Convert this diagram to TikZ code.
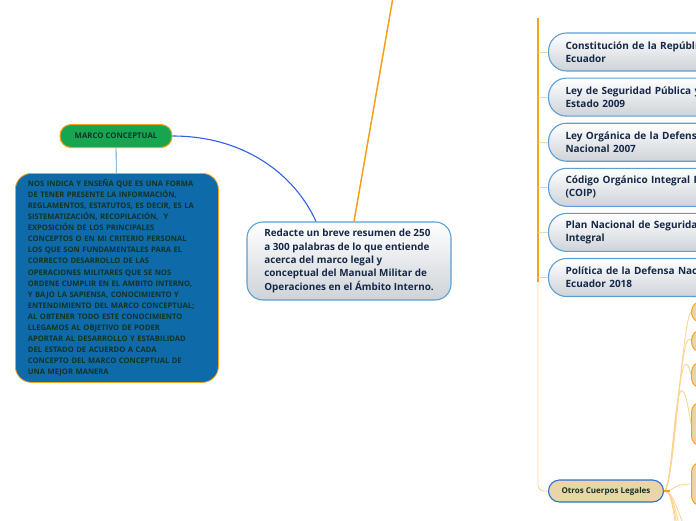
\documentclass[tikz,border=0pt]{standalone}
\usepackage{fontspec}
\setmainfont{Open Sans}
\usetikzlibrary{positioning, arrows.meta}

\definecolor{navy}{RGB}{22,40,72}
\definecolor{darkgreen}{RGB}{18,52,38}
\definecolor{linkblue}{RGB}{92,158,214}
\definecolor{strongblue}{RGB}{48,96,232}
\definecolor{cardgray}{RGB}{206,211,216}
\definecolor{mindorange}{RGB}{247,160,28}
\definecolor{paleorange}{RGB}{252,212,150}
\definecolor{marcogreen}{RGB}{22,166,80}
\definecolor{boxblue}{RGB}{14,106,168}
\definecolor{tan}{RGB}{232,213,168}
\definecolor{otrosblue}{RGB}{46,110,214}

\begin{document}
\begin{tikzpicture}[
    x=1pt, y=-1pt,
    topic/.style={draw=linkblue, line width=1.1pt, rounded corners=18pt,
        top color=white, bottom color=cardgray, text=navy,
        text width=220pt, inner xsep=17pt, minimum height=38pt, align=left,
        font=\fontsize{10}{13}\selectfont\bfseries},
    leaf/.style={draw=mindorange, line width=1pt, rounded corners=10pt,
        fill=tan, minimum width=60pt},
    trunk/.style={draw=mindorange, line width=1.8pt},
    twig/.style={draw=paleorange, line width=0.9pt}
]
\clip (0,0) rectangle (696,520);

% central idea
\node[draw=linkblue, line width=1.1pt, rounded corners=16pt,
      top color=white, bottom color=cardgray, text=navy,
      minimum width=204pt, minimum height=78pt, align=left,
      font=\fontsize{9.9}{13.3}\selectfont\bfseries] (central) at (349,261)
    {Redacte un breve resumen de 250\\
     a 300 palabras de lo que entiende\\
     acerca del marco legal y\\
     conceptual del Manual Militar de\\
     Operaciones en el Ámbito Interno.};
\coordinate (up) at (396,-20);
\draw[trunk, line width=1.5pt] ([xshift=5pt]central.north) -- (up);

% marco conceptual
\node[draw=mindorange, line width=1pt, fill=marcogreen, rounded corners=11pt,
      minimum width=112pt, minimum height=23pt, text=darkgreen,
      font=\fontsize{7.8}{9}\selectfont\bfseries] (marco) at (116,136)
    {MARCO CONCEPTUAL};
\node[draw=mindorange, line width=0.8pt, fill=boxblue, rounded corners=16pt,
      anchor=north west, text width=178pt, inner xsep=12.5pt,
      minimum height=209pt, align=left, text=darkgreen,
      font=\fontsize{7.6}{11.1}\selectfont\bfseries] (nota) at (15,173)
    {NOS INDICA Y ENSEÑA QUE ES UNA FORMA\\
     DE TENER PRESENTE LA INFORMACIÓN,\\
     REGLAMENTOS, ESTATUTOS, ES DECIR, ES LA\\
     SISTEMATIZACIÓN, RECOPILACIÓN,\ \ Y\\
     EXPOSICIÓN DE LOS PRINCIPALES\\
     CONCEPTOS O EN MI CRITERIO PERSONAL\\
     LOS QUE SON FUNDAMENTALES PARA EL\\
     CORRECTO DESARROLLO DE LAS\\
     OPERACIONES MILITARES QUE SE NOS\\
     ORDENE CUMPLIR EN EL AMBITO INTERNO,\\
     Y BAJO LA SAPIENSA, CONOCIMIENTO Y\\
     ENTENDIMIENTO DEL MARCO CONCEPTUAL;\\
     AL OBTENER TODO ESTE CONOCIMIENTO\\
     LLEGAMOS AL OBJETIVO DE PODER\\
     APORTAR AL DESARROLLO Y ESTABILIDAD\\
     DEL ESTADO DE ACUERDO A CADA\\
     CONCEPTO DEL MARCO CONCEPTUAL DE\\
     UNA MEJOR MANERA};
\draw[linkblue, line width=0.8pt] (marco) -- (nota);
\draw[strongblue, line width=1.1pt] (marco.east)
    .. controls (245,136) and (295,175) .. ([xshift=-33pt]central.north);

% marco legal
\node[topic, anchor=west] (r1) at (548,52) {Constitución de la República del\\Ecuador};
\node[topic, below=6pt of r1] (r2) {Ley de Seguridad Pública y del\\Estado 2009};
\node[topic, below=6pt of r2] (r3) {Ley Orgánica de la Defensa\\Nacional 2007};
\node[topic, below=6pt of r3] (r4) {Código Orgánico Integral Penal\\(COIP)};
\node[topic, below=6pt of r4] (r5) {Plan Nacional de Seguridad\\Integral};
\node[topic, below=6pt of r5] (r6) {Política de la Defensa Nacional del\\Ecuador 2018};

\node[draw=otrosblue, line width=1.1pt, fill=tan, rounded corners=11pt,
      minimum width=115pt, minimum height=22pt, text=darkgreen,
      font=\fontsize{8}{9}\selectfont\bfseries] (otros) at (606,491)
    {Otros Cuerpos Legales};

\coordinate (trunktop) at (538,18);
\draw[twig, rounded corners=6pt] (trunktop |- r6.west) |- (otros.west);
\draw[trunk] (trunktop) -- ([yshift=-4pt]trunktop |- r6.west);
\foreach \n in {1,...,6}
    \draw[twig] (trunktop |- r\n.west) -- (r\n.west);

% otros cuerpos legales
\node[leaf, anchor=west, minimum height=21pt] (l1) at (691,312) {};
\node[leaf, anchor=west, minimum height=22pt] (l2) at (691,341) {};
\node[leaf, anchor=west, minimum height=26pt] (l3) at (691,375) {};
\node[leaf, anchor=west, minimum height=44pt] (l4) at (691,424) {};
\node[leaf, anchor=west, minimum height=44pt] (l5) at (691,484) {};
\coordinate (d1) at (691,545);
\coordinate (d2) at (691,580);
\coordinate (d3) at (691,620);
\coordinate (d4) at (691,660);
\foreach \n/\bend in {l1/682, l2/680, l3/678, l4/675}
    \draw[twig] (otros.east) .. controls (674,491) and (\bend,320) .. (\n.west);
\draw[twig] (otros.east) .. controls (675,491) and (672,484) .. (l5.west);
\foreach \n in {d1,d2,d3,d4}
    \draw[twig] (otros.east) .. controls (672,491) and (674,500) .. (\n);
\draw[mindorange, line width=1.4pt] (otros.east) -- ++(6,0);
\end{tikzpicture}
\end{document}
